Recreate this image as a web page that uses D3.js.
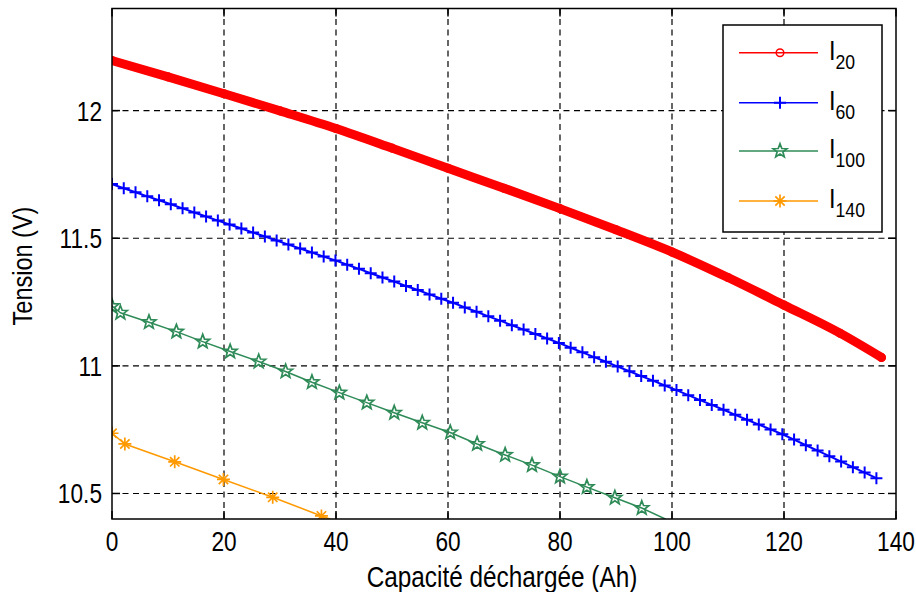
<!DOCTYPE html>
<html><head><meta charset="utf-8">
<script src="https://cdn.jsdelivr.net/npm/d3@7"></script>
<style>
html,body{margin:0;padding:0;background:#fff;}
svg{display:block;}
text{font-family:"Liberation Sans",Arial,Helvetica,sans-serif;fill:#000;}
</style></head>
<body>
<svg id="chart" width="916" height="592"></svg>
<script>
// ---------- data ----------
const xTicks = [0, 20, 40, 60, 80, 100, 120, 140];
const yTicks = [10.5, 11, 11.5, 12];
const xLabel = "Capacité déchargée (Ah)";
const yLabel = "Tension (V)";

// I20 (red, circles)
const redX = [0, 10, 20, 30, 40, 50, 60, 70, 80, 90, 100, 110, 120, 130, 137.4];
const redY = [12.196, 12.132, 12.066, 11.999, 11.930, 11.853, 11.774, 11.696, 11.616, 11.533, 11.446, 11.346, 11.238, 11.128, 11.033];

// I60 (blue, plus)
const blueX = [0, 2.1, 4.2, 6.3, 8.4, 10.5, 12.6, 14.7, 16.8, 18.9, 21, 23.1, 25.2, 27.3, 29.4, 31.5, 33.6, 35.7, 37.8, 39.9,
  42, 44.1, 46.2, 48.3, 50.4, 52.5, 54.6, 56.7, 58.8, 60.9, 63, 65.1, 67.2, 69.3, 71.4, 73.5, 75.6, 77.7, 79.8, 81.9,
  84, 86.1, 88.2, 90.3, 92.4, 94.5, 96.6, 98.7, 100.8, 102.9, 105, 107.1, 109.2, 111.3, 113.4, 115.5, 117.6, 119.7,
  121.8, 123.9, 126, 128.1, 130.2, 132.3, 134.4, 136.5];
const blueY = [11.712, 11.696, 11.680, 11.664, 11.649, 11.633, 11.617, 11.601, 11.585, 11.569, 11.554, 11.538, 11.522, 11.507, 11.491, 11.475, 11.460, 11.444, 11.428, 11.413,
  11.396, 11.380, 11.363, 11.346, 11.330, 11.313, 11.297, 11.280, 11.263, 11.247, 11.229, 11.212, 11.194, 11.177, 11.159, 11.142, 11.125, 11.107, 11.090, 11.071,
  11.053, 11.034, 11.016, 10.997, 10.979, 10.960, 10.942, 10.923, 10.905, 10.885, 10.866, 10.847, 10.828, 10.808, 10.789, 10.770, 10.751, 10.732,
  10.711, 10.689, 10.668, 10.646, 10.625, 10.603, 10.582, 10.560];

// I100 (green, pentagram)
const greenX = [0, 1.5, 6.6, 11.5, 16.2, 21.1, 26.2, 31.0, 35.7, 40.6, 45.5, 50.4, 55.4, 60.4, 65.2, 70.2, 75.0, 80.0, 84.8, 89.8, 94.6];
const greenY = [11.234, 11.208, 11.171, 11.134, 11.095, 11.056, 11.017, 10.978, 10.936, 10.895, 10.856, 10.816, 10.777, 10.739, 10.694, 10.651, 10.611, 10.566, 10.525, 10.483, 10.443];
const greenTailX = [98.8];
const greenTailY = [10.400];

// I140 (orange, asterisk)
const orangeX = [0, 2.3, 11.2, 19.9, 28.7, 37.4];
const orangeY = [10.736, 10.694, 10.624, 10.555, 10.485, 10.412];
const orangeTailX = [38.9];
const orangeTailY = [10.400];

const seriesNames = ["20", "60", "100", "140"];

// ---------- layout ----------
const W = 916, H = 592;
const L = 112, R = 896, T = 8.5, B = 519;
const svg = d3.select("#chart");
svg.append("rect").attr("width", W).attr("height", H).attr("fill", "#fff");

const x = d3.scaleLinear().domain([0, 140]).range([L, R]);
const y = d3.scaleLinear().domain([10.4, 12.4]).range([B, T]);

const FONT = 27;
const SX = 0.84; // horizontal condensing of text

// grid
const grid = svg.append("g");
grid.selectAll("line.gx").data(xTicks.slice(1, -1)).join("line")
  .attr("x1", d => x(d)).attr("x2", d => x(d)).attr("y1", T).attr("y2", B)
  .attr("stroke", "#000").attr("stroke-width", 1.2).attr("stroke-dasharray", "6,4.5");
grid.selectAll("line.gy").data(yTicks).join("line")
  .attr("y1", d => y(d)).attr("y2", d => y(d)).attr("x1", L).attr("x2", R)
  .attr("stroke", "#000").attr("stroke-width", 1.2).attr("stroke-dasharray", "6,4.5");

// clip
svg.append("defs").append("clipPath").attr("id", "clip")
  .append("rect").attr("x", L).attr("y", T).attr("width", R - L).attr("height", B - T);
const plot = svg.append("g").attr("clip-path", "url(#clip)");

const zip = (xs, ys) => xs.map((v, i) => [v, ys[i]]);
const line = d3.line().x(d => x(d[0])).y(d => y(d[1]));
const smoothLine = d3.line().x(d => x(d[0])).y(d => y(d[1])).curve(d3.curveMonotoneX);

// marker shapes
function starPath(r) {
  const pts = [];
  for (let i = 0; i < 10; i++) {
    const a = -Math.PI / 2 + i * Math.PI / 5;
    const rr = i % 2 === 0 ? r : r * 0.42;
    pts.push([rr * Math.cos(a), rr * Math.sin(a)]);
  }
  return "M" + pts.map(p => p[0].toFixed(2) + "," + p[1].toFixed(2)).join("L") + "Z";
}
const plusPath = s => `M${-s},0H${s}M0,${-s}V${s}`;
const asteriskPath = s => { const d = s * 0.72; return `M${-s},0H${s}M0,${-s}V${s}M${-d},${-d}L${d},${d}M${-d},${d}L${d},${-d}`; };

const series = [
  { name: "20", color: "#ff0000", pts: zip(redX, redY), tail: [], width: 9, marker: "circle", gen: smoothLine },
  { name: "60", color: "#0000ff", pts: zip(blueX, blueY), tail: [], width: 2, marker: "plus", gen: line },
  { name: "100", color: "#2e8b57", pts: zip(greenX, greenY), tail: zip(greenTailX, greenTailY), width: 1.5, marker: "star", gen: line },
  { name: "140", color: "#ff9900", pts: zip(orangeX, orangeY), tail: zip(orangeTailX, orangeTailY), width: 1.5, marker: "asterisk", gen: line }
];

function drawMarker(g, type, color, cx, cy) {
  if (type === "circle") {
    g.append("circle").attr("cx", cx).attr("cy", cy).attr("r", 3.8)
      .attr("fill", "none").attr("stroke", color).attr("stroke-width", 1.5);
  } else {
    const d = type === "plus" ? plusPath(6) : type === "star" ? starPath(7.3) : asteriskPath(6.5);
    g.append("path").attr("d", d).attr("transform", `translate(${cx},${cy})`)
      .attr("fill", "none").attr("stroke", color).attr("stroke-width", type === "plus" ? 2 : 1.7)
      .attr("stroke-linejoin", "miter");
  }
}

series.forEach(s => {
  plot.append("path").datum(s.pts.concat(s.tail)).attr("d", s.gen)
    .attr("fill", "none").attr("stroke", s.color).attr("stroke-width", s.width)
    .attr("stroke-linejoin", "round").attr("stroke-linecap", "round");
  const mg = plot.append("g");
  s.pts.forEach(p => drawMarker(mg, s.marker, s.color, x(p[0]), y(p[1])));
});

// frame and ticks
const axes = svg.append("g");
axes.append("rect").attr("x", L).attr("y", T).attr("width", R - L).attr("height", B - T)
  .attr("fill", "none").attr("stroke", "#000").attr("stroke-width", 1.5);
const TL = 8;
xTicks.forEach(t => {
  axes.append("line").attr("x1", x(t)).attr("x2", x(t)).attr("y1", B).attr("y2", B - TL).attr("stroke", "#000").attr("stroke-width", 1.5);
  axes.append("line").attr("x1", x(t)).attr("x2", x(t)).attr("y1", T).attr("y2", T + TL).attr("stroke", "#000").attr("stroke-width", 1.5);
});
yTicks.forEach(t => {
  axes.append("line").attr("x1", L).attr("x2", L + TL).attr("y1", y(t)).attr("y2", y(t)).attr("stroke", "#000").attr("stroke-width", 1.5);
  axes.append("line").attr("x1", R).attr("x2", R - TL).attr("y1", y(t)).attr("y2", y(t)).attr("stroke", "#000").attr("stroke-width", 1.5);
});

// condensed text helper
function ctext(g, px, py, str, anchor, rot, size) {
  return g.append("text")
    .attr("transform", `translate(${px},${py})${rot ? ` rotate(${rot})` : ""} scale(${SX},1)`)
    .attr("text-anchor", anchor).attr("font-size", size || FONT).text(str);
}

// tick labels
xTicks.forEach(t => ctext(axes, x(t), 551, t, "middle"));
yTicks.forEach(t => ctext(axes, 102, y(t) + 10, t, "end"));

// axis labels
ctext(svg, 502, 587, xLabel, "middle", 0, 29);
ctext(svg, 32, 266, yLabel, "middle", -90, 28);

// legend
const lg = svg.append("g");
lg.append("rect").attr("x", 723).attr("y", 25).attr("width", 159).attr("height", 207)
  .attr("fill", "#fff").attr("stroke", "#000").attr("stroke-width", 1.5);
const legY = [52.7, 102.7, 151, 201];
series.forEach((s, i) => {
  const yy = legY[i];
  lg.append("line").attr("x1", 739).attr("x2", 818).attr("y1", yy).attr("y2", yy)
    .attr("stroke", s.color).attr("stroke-width", 1.5);
  drawMarker(lg, s.marker, s.color, 780, yy);
  const t = lg.append("text").attr("transform", `translate(829,${yy + 7}) scale(${SX},1)`).attr("font-size", FONT + 1);
  t.append("tspan").text("I");
  t.append("tspan").attr("font-size", 21).attr("dy", 9).text(s.name);
});
</script>
</body></html>
